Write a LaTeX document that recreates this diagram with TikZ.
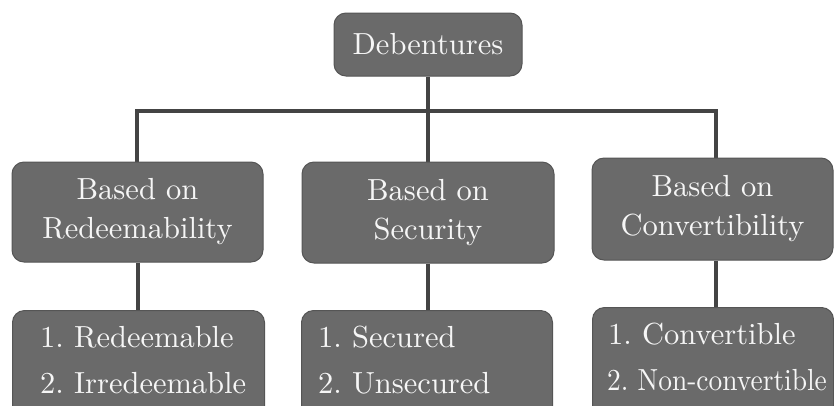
\documentclass[tikz,border=0pt]{standalone}
\usepackage{fontspec}
\usetikzlibrary{backgrounds}
\newfontfamily\chartface{lmroman10-regular}[Extension=.otf]
\frenchspacing
\definecolor{boxfill}{HTML}{6A6A6A}
\definecolor{boxedge}{HTML}{555555}
\definecolor{linkcol}{HTML}{444444}
\definecolor{labelcol}{HTML}{F6F6F6}
\tikzset{
  cat/.style={rectangle, rounded corners=12pt, fill=boxfill, draw=boxedge, line width=1pt,
    text=labelcol, align=center, inner sep=0pt,
    font=\chartface\fontsize{30.5}{39}\selectfont},
  item/.style={text=labelcol, inner sep=0pt, anchor=base west,
    font=\chartface\fontsize{30.5}{39}\selectfont},
  link/.style={draw=linkcol, line width=4pt}
}
\begin{document}
\begin{tikzpicture}[x=1pt, y=-1pt]
  \useasboundingbox (0,0) rectangle (834,405);
  \clip (0,0) rectangle (834,405);

  % bus line end points
  \coordinate (busL) at (137,111);
  \coordinate (busR) at (716,111);

  % root
  \node[cat, minimum width=188pt, minimum height=63pt] (d) at (428,44.5) {Debentures};

  % categories
  \node[cat, minimum width=251pt, minimum height=100pt] (b1) at (137.5,212) {Based on\\Redeemability};
  \node[cat, minimum width=252pt, minimum height=101pt] (b2) at (428,212.5) {Based on\\Security};
  \node[cat, minimum width=241pt, minimum height=102pt] (b3) at (712.5,209) {Based on\\Convertibility};

  % lists
  \node[cat, minimum width=252pt, minimum height=112pt, anchor=north west] (r1) at (12,310) {};
  \node[cat, minimum width=251pt, minimum height=112pt, anchor=north west] (r2) at (301,310) {};
  \node[cat, minimum width=241pt, minimum height=112pt, anchor=north west] (r3) at (592,307) {};

  \node[item] (r1a) at (40,347) {1. Redeemable};
  \node[item] (r1b) at (40,393) {2. Irredeemable};
  \node[item] (r2a) at (318,347) {1. Secured};
  \node[item] (r2b) at (318,393) {2. Unsecured};
  \node[item] (r3a) at (608,344) {1. Convertible};
  \node[item] (r3b) at (607,390) {\scalebox{0.9}[1]{2. Non-convertible}};

  % connectors, beneath the boxes
  \begin{scope}[on background layer]
    \fill[white] (0,0) rectangle (834,405);
    \draw[link] (d.south) -- (d.south |- busL);
    \draw[link] (busL |- b1.north) -- (busL) -- (busR) -- (busR |- b3.north);
    \draw[link] (b2.north) -- (b2.north |- busL);
    \draw[link] (b1.south) -- (r1.north -| b1.south);
    \draw[link] (b2.south) -- (r2.north -| b2.south);
    \draw[link] (b3.south -| busR) -- (r3.north -| busR);
  \end{scope}
\end{tikzpicture}
\end{document}
